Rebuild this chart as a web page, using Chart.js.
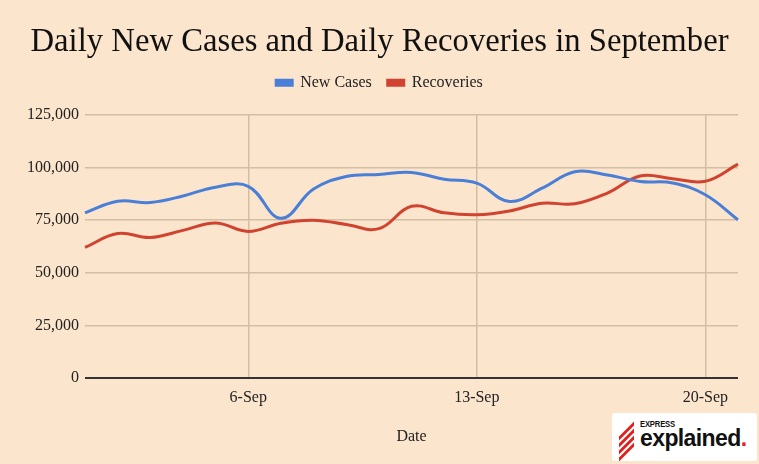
<!DOCTYPE html>
<html>
<head>
<meta charset="utf-8">
<script src="https://cdn.jsdelivr.net/npm/chart.js@4"></script>
<style>
  html, body { margin: 0; padding: 0; background: #fce5cd; }
  #wrap { position: relative; width: 759px; height: 464px; }
  #logo { position: absolute; left: 612px; top: 413px; width: 145px; height: 48px; background: #ffffff; border-radius: 3px; overflow: hidden; }
  #logo .stripes { position: absolute; left: 5px; top: 7px; width: 20px; height: 34px; }
  #logo .stripes div { position: absolute; left: 2px; width: 15px; height: 4px; background: #e0201e; transform: skewY(-45deg); }
  #logo .exp { position: absolute; left: 28px; top: 6px; font: bold 9px "Liberation Sans", sans-serif; color: #111; transform: scaleX(0.85); transform-origin: left top; letter-spacing: -0.2px; }
  #logo .expl { position: absolute; left: 28px; top: 11px; font: bold 23px "Liberation Sans", sans-serif; color: #111; letter-spacing: -0.6px; line-height: 28px; }
  #logo .expl span { color: #e0201e; }
</style>
</head>
<body>
<div id="wrap">
  <canvas id="c" width="759" height="464"></canvas>
  <div id="logo">
    <div class="stripes">
      <div style="top:9px"></div>
      <div style="top:16px"></div>
      <div style="top:23px"></div>
      <div style="top:30px"></div>
    </div>
    <div class="exp">EXPRESS</div>
    <div class="expl">explained<span>.</span></div>
  </div>
</div>
<script>
const dates = ["1-Sep","2-Sep","3-Sep","4-Sep","5-Sep","6-Sep","7-Sep","8-Sep","9-Sep","10-Sep","11-Sep","12-Sep","13-Sep","14-Sep","15-Sep","16-Sep","17-Sep","18-Sep","19-Sep","20-Sep","21-Sep"];
const newCases = [78400, 83900, 83300, 86400, 90600, 91000, 75800, 89700, 95700, 96600, 97600, 94400, 92500, 83800, 90100, 97900, 96400, 93300, 92600, 87000, 75100];
const recoveries = [62000, 68600, 66700, 70100, 73600, 69600, 73500, 74900, 72900, 70900, 81500, 78400, 77500, 79300, 83000, 82700, 87800, 95900, 94600, 93400, 101500];
const shownTicks = ["6-Sep","13-Sep","20-Sep"];
const yTicks = [0, 25000, 50000, 75000, 100000, 125000];

const serif = "'Liberation Serif', 'DejaVu Serif', serif";
const gridColor = "#d2bea3";

const legendGap = {
  id: "legendGap",
  afterInit(chart) {
    const lg = chart.legend;
    if (!lg) return;
    const orig = lg.fit.bind(lg);
    lg.fit = function () { orig(); this.height += 14; };
  }
};

new Chart(document.getElementById("c"), {
  type: "line",
  data: {
    labels: dates,
    datasets: [
      { label: "New Cases", data: newCases, borderColor: "#4a7fd8", backgroundColor: "#4a7fd8", borderWidth: 3, pointRadius: 0, tension: 0.4, fill: false },
      { label: "Recoveries", data: recoveries, borderColor: "#cf4330", backgroundColor: "#cf4330", borderWidth: 3, pointRadius: 0, tension: 0.4, fill: false }
    ]
  },
  plugins: [legendGap],
  options: {
    responsive: false,
    animation: false,
    devicePixelRatio: 1,
    layout: { padding: { left: 21, right: 21, top: 0, bottom: 0 } },
    plugins: {
      title: { display: true, text: "Daily New Cases and Daily Recoveries in September", color: "#111", font: { family: serif, size: 32.7, weight: "normal", lineHeight: 1.0 }, padding: { top: 26, bottom: 0 } },
      legend: { display: true, labels: { color: "#222", font: { family: serif, size: 16 }, boxWidth: 16, boxHeight: 5, padding: 16 } },
      tooltip: { enabled: false }
    },
    scales: {
      x: {
        offset: false,
        afterFit: (axis) => { axis.height = 86; },
        grid: {
          drawTicks: false,
          color: (ctx) => (ctx.tick && shownTicks.includes(dates[ctx.index]) ? gridColor : "rgba(0,0,0,0)"),
          lineWidth: 1.5
        },
        border: { display: false },
        ticks: {
          autoSkip: false, maxRotation: 0, padding: 10, color: "#222",
          font: { family: serif, size: 16 },
          callback: function (v, i) { return shownTicks.includes(dates[i]) ? dates[i] : ""; }
        },
        title: { display: true, text: "Date", color: "#222", font: { family: serif, size: 16 }, padding: { top: 0, bottom: 18 } }
      },
      y: {
        min: 0, max: 125000,
        afterFit: (axis) => { axis.width = 64; },
        afterBuildTicks: (axis) => { axis.ticks = yTicks.map(v => ({ value: v })); },
        grid: { drawTicks: false, color: (ctx) => ctx.tick && ctx.tick.value === 0 ? "#333" : gridColor, lineWidth: (ctx) => ctx.tick && ctx.tick.value === 0 ? 2 : 1.5 },
        border: { display: false },
        ticks: { padding: 6, color: "#222", font: { family: serif, size: 16 }, callback: (v) => v.toLocaleString("en-US") }
      }
    }
  }
});
</script>
</body>
</html>
